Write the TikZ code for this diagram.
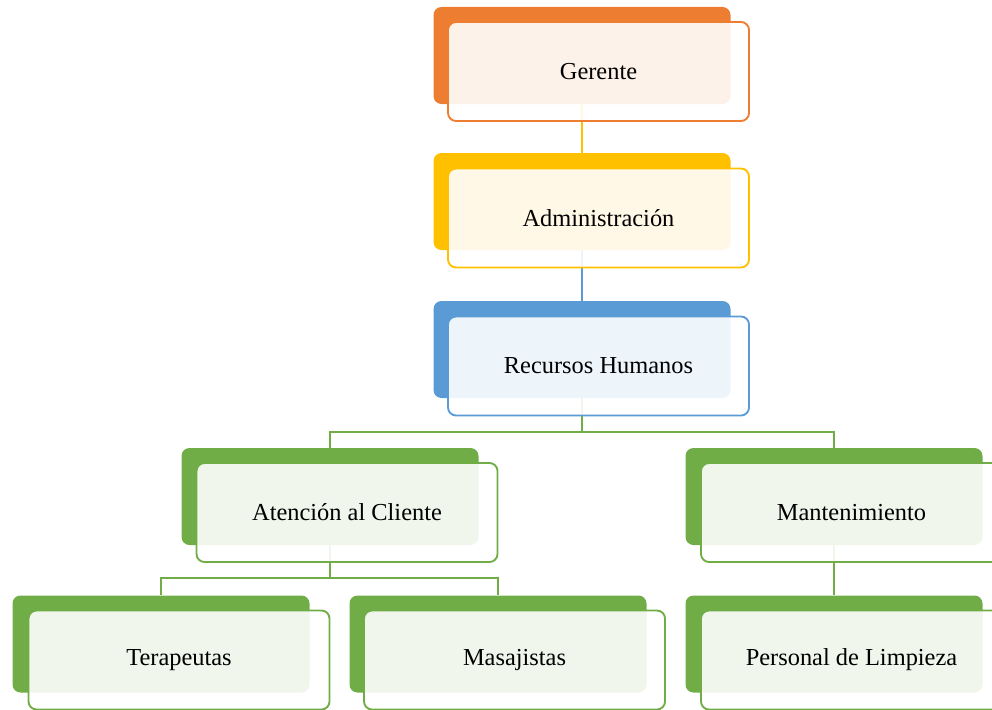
\documentclass[tikz,border=0pt]{standalone}
\usepackage{fontspec}
\setmainfont{Liberation Serif}
\usepackage{tikz}
\usetikzlibrary{positioning}
\definecolor{orgOrange}{RGB}{237,125,49}
\definecolor{orgGold}  {RGB}{255,192,0}
\definecolor{orgBlue}  {RGB}{91,155,213}
\definecolor{orgGreen} {RGB}{112,173,71}

\begin{document}
\begin{tikzpicture}[x=0.75pt,y=-0.75pt,
    backcard/.style={fill=#1,rounded corners=6pt,inner sep=0pt,
                     minimum width=222.75pt,minimum height=72.75pt},
    frontcard/.style={draw=#1,line width=1.4pt,fill=white,fill opacity=0.9,
                      text opacity=1,rounded corners=6pt,inner sep=0pt,
                      minimum width=225.75pt,minimum height=74.25pt,
                      font=\fontsize{18.3}{22}\selectfont},
    link/.style={draw=#1,line width=1.6pt}]
  \useasboundingbox (0,0) rectangle (992,710);

  % Tarjetas de fondo
  \node[backcard=orgOrange] (gerB) at (582,55.5)  {};
  \node[backcard=orgGold]   (admB) at (582,201.5) {};
  \node[backcard=orgBlue]   (rhB)  at (582,349.5) {};
  \node[backcard=orgGreen]  (atB)  at (330,496.5) {};
  \node[backcard=orgGreen]  (mtB)  at (834,496.5) {};
  \node[backcard=orgGreen]  (tpB)  at (161,644)   {};
  \node[backcard=orgGreen]  (msB)  at (498,644)   {};
  \node[backcard=orgGreen]  (plB)  at (834,644)   {};

  % Conectores
  \draw[link=orgGold] (gerB.south) -- (admB.north);
  \draw[link=orgBlue] (admB.south) -- (rhB.north);
  \draw[link=orgGreen] (rhB.south) -- ++(0,34) -| (atB.north);
  \draw[link=orgGreen] (rhB.south) -- ++(0,34) -| (mtB.north);
  \draw[link=orgGreen] (atB.south) -- ++(0,33) -| (tpB.north);
  \draw[link=orgGreen] (atB.south) -- ++(0,33) -| (msB.north);
  \draw[link=orgGreen] (mtB.south) -- (plB.north);

  % Tarjetas con texto
  \node[frontcard=orgOrange] (ger) at (598.5,71.5)  {Gerente};
  \node[frontcard=orgGold]   (adm) at (598.5,218)   {Administración};
  \node[frontcard=orgBlue]   (rh)  at (598.5,366)   {Recursos Humanos};
  \node[frontcard=orgGreen]  (at)  at (347,512.5)   {Atención al Cliente};
  \node[frontcard=orgGreen]  (mt)  at (851.5,512.5) {Mantenimiento};
  \node[frontcard=orgGreen]  (tp)  at (179,660)     {Terapeutas};
  \node[frontcard=orgGreen]  (ms)  at (514.5,660)   {Masajistas};
  \node[frontcard=orgGreen]  (pl)  at (851.5,660)   {Personal de Limpieza};
\end{tikzpicture}
\end{document}
